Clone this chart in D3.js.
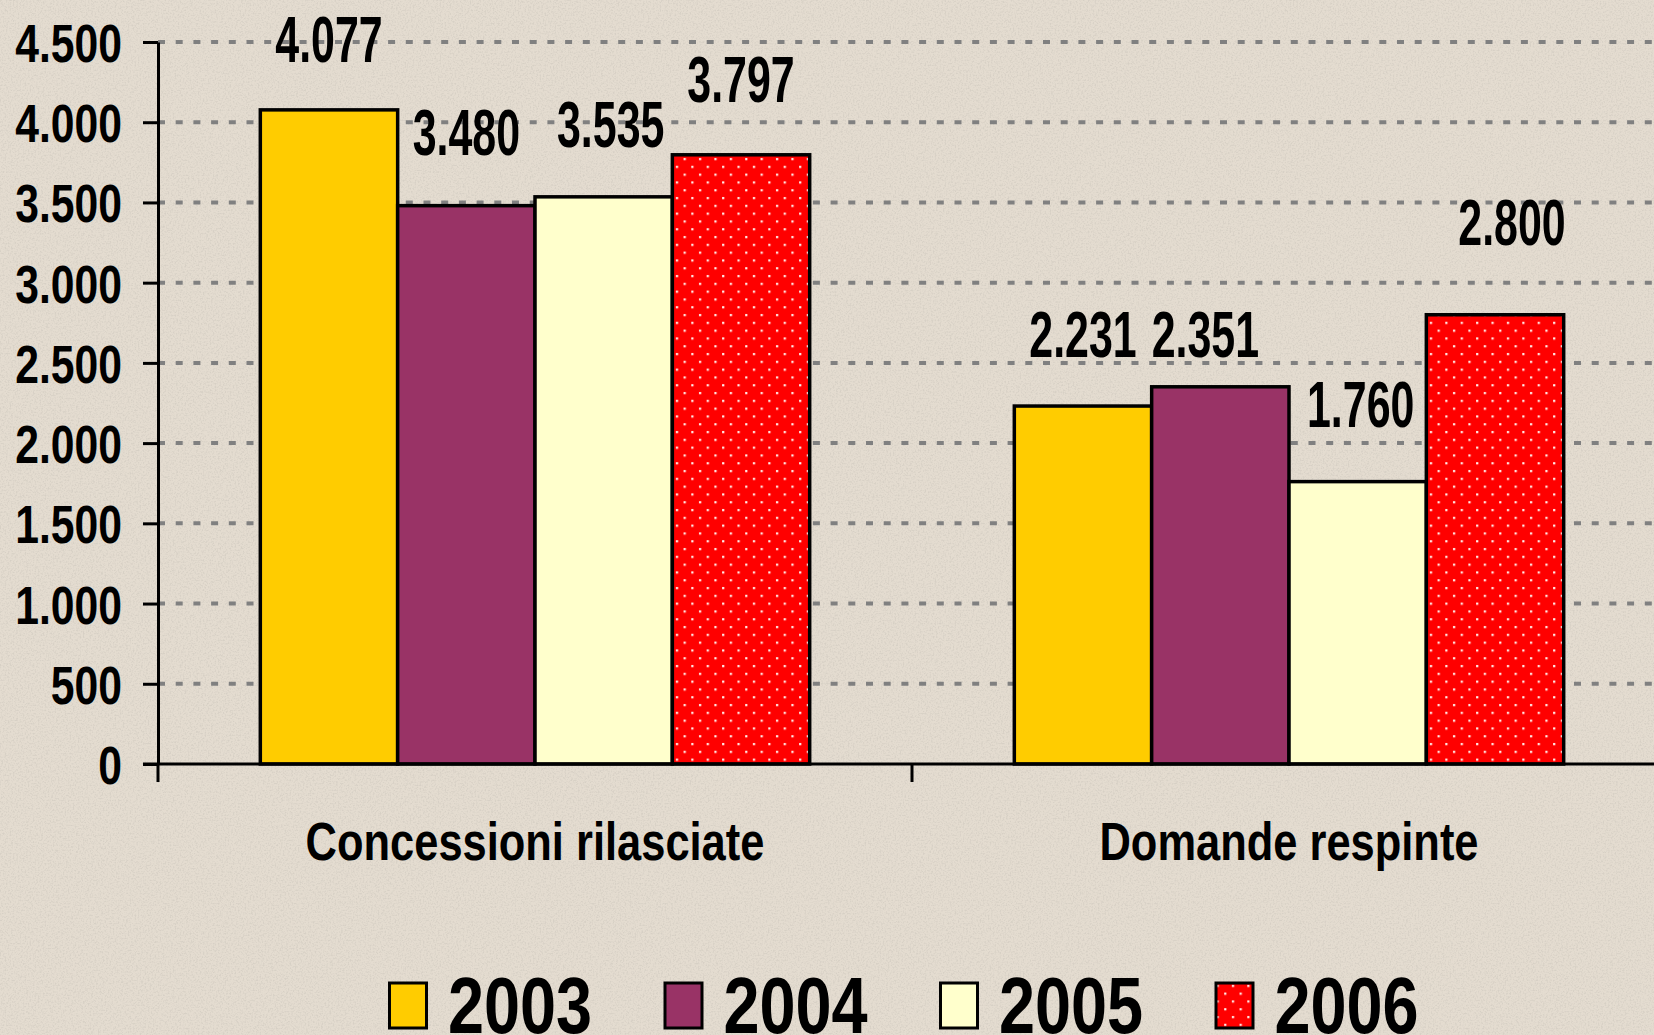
<!DOCTYPE html>
<html>
<head>
<meta charset="utf-8">
<script src="https://cdn.jsdelivr.net/npm/d3@7"></script>
<style>
  html, body { margin: 0; padding: 0; background: #e4dcd0; }
  svg { display: block; }
  text { font-family: "Liberation Sans", Arial, sans-serif; font-weight: bold; fill: #000; }
</style>
</head>
<body>
<div id="chart"></div>
<script>
// chart data
const categories = ["Concessioni rilasciate", "Domande respinte"];
const years = ["2003", "2004", "2005", "2006"];
const values2003 = [4077, 2231];
const values2004 = [3480, 2351];
const values2005 = [3535, 1760];
const values2006 = [3797, 2800];
const yTicks = [0, 500, 1000, 1500, 2000, 2500, 3000, 3500, 4000, 4500];

const seriesValues = [values2003, values2004, values2005, values2006];
const colors = ["#ffcc00", "#993366", "#ffffcc", "url(#dots)"];

// hand placed data labels in the original, small nudges [dx, dy] per category/year
const labelNudge = [
  [[0, 2], [0, -1], [7, 0], [0, -3]],
  [[0, 1], [-15, 20], [3, -5], [17, -20]]
];

const W = 1654, H = 1035;
const plot = { left: 158, right: 1666, top: 42, bottom: 764 };

const it = d3.formatLocale({ decimal: ",", thousands: ".", grouping: [3], currency: ["€", ""] });
const fmt = it.format(",d");

const svg = d3.select("#chart").append("svg")
  .attr("width", W).attr("height", H);

const defs = svg.append("defs");
const pat = defs.append("pattern")
  .attr("id", "dots").attr("patternUnits", "userSpaceOnUse")
  .attr("width", 15.4).attr("height", 15.6);
pat.append("rect").attr("width", 15.4).attr("height", 15.6).attr("fill", "#ff0000");
pat.append("rect").attr("x", 2).attr("y", 2).attr("width", 2.2).attr("height", 2.2).attr("fill", "#fff4f0");
pat.append("rect").attr("x", 9.7).attr("y", 9.8).attr("width", 2.2).attr("height", 2.2).attr("fill", "#fff4f0");

const noise = defs.append("filter").attr("id", "paper")
  .attr("x", 0).attr("y", 0).attr("width", "100%").attr("height", "100%");
noise.append("feTurbulence").attr("type", "fractalNoise")
  .attr("baseFrequency", 0.6).attr("numOctaves", 2).attr("seed", 4);
noise.append("feColorMatrix").attr("type", "matrix")
  .attr("values", "0 0 0 0 0.6  0 0 0 0 0.56  0 0 0 0 0.5  0 0 0 -3 1.7");

// background
svg.append("rect").attr("width", W).attr("height", H).attr("fill", "#e4dcd0");
svg.append("rect").attr("width", W).attr("height", H).attr("filter", "url(#paper)").attr("opacity", 0.5);

const x0 = d3.scaleBand().domain(categories).range([plot.left, plot.right]);
const x1 = d3.scaleBand().domain(years).range([0, x0.bandwidth()])
  .paddingInner(0).paddingOuter(0.745);
const y = d3.scaleLinear().domain([0, 4500]).range([plot.bottom, plot.top]);

// grid
svg.append("g").selectAll("line").data(yTicks.filter(d => d > 0)).join("line")
  .attr("x1", plot.left).attr("x2", W)
  .attr("y1", d => y(d)).attr("y2", d => y(d))
  .attr("stroke", "#808080").attr("stroke-width", 4)
  .attr("stroke-dasharray", "7,10.7");

// bars
const groups = svg.append("g").selectAll("g").data(categories).join("g")
  .attr("transform", c => `translate(${x0(c)},0)`);

groups.selectAll("rect")
  .data((c, ci) => years.map((yr, yi) => ({ yr, yi, ci, v: seriesValues[yi][ci] })))
  .join("rect")
  .attr("x", d => x1(d.yr))
  .attr("width", x1.bandwidth())
  .attr("y", d => y(d.v))
  .attr("height", d => y(0) - y(d.v))
  .attr("fill", d => colors[d.yi])
  .attr("stroke", "#000").attr("stroke-width", 3.5);

// data labels (condensed face -> squeeze horizontally)
groups.selectAll("g.lbl")
  .data((c, ci) => years.map((yr, yi) => ({ yr, yi, ci, v: seriesValues[yi][ci] })))
  .join("g").attr("class", "lbl")
  .attr("transform", d => {
    const n = labelNudge[d.ci][d.yi];
    return `translate(${x1(d.yr) + x1.bandwidth() / 2 + n[0]},${y(d.v) - 50 + n[1]})`;
  })
  .append("text")
  .attr("transform", "scale(0.66,1)")
  .attr("text-anchor", "middle")
  .style("font-size", "65px")
  .text(d => fmt(d.v));

// y axis
const yAxis = svg.append("g")
  .attr("transform", `translate(${plot.left},0)`)
  .call(d3.axisLeft(y).tickValues(yTicks).tickFormat(fmt).tickSize(15).tickPadding(6).tickSizeOuter(0));
yAxis.select(".domain").attr("stroke", "#000").attr("stroke-width", 3);
yAxis.selectAll(".tick line").attr("stroke", "#000").attr("stroke-width", 3);
yAxis.selectAll(".tick text")
  .attr("x", 0)
  .attr("dy", "0.36em")
  .attr("transform", "translate(-36,0) scale(0.79,1)")
  .style("font-size", "54px")
  .style("font-family", "\"Liberation Sans\", Arial, sans-serif");

// x axis
const xAxisG = svg.append("g");
xAxisG.append("line")
  .attr("x1", plot.left - 15).attr("x2", W)
  .attr("y1", y(0)).attr("y2", y(0))
  .attr("stroke", "#000").attr("stroke-width", 3);
xAxisG.selectAll("line.sep").data([categories[0], categories[1], null]).join("line")
  .attr("class", "sep")
  .attr("x1", c => c === null ? plot.right : x0(c))
  .attr("x2", c => c === null ? plot.right : x0(c))
  .attr("y1", y(0)).attr("y2", y(0) + 18)
  .attr("stroke", "#000").attr("stroke-width", 3);
xAxisG.selectAll("g.cat").data(categories).join("g")
  .attr("class", "cat")
  .attr("transform", c => `translate(${x0(c) + x0.bandwidth() / 2},860) scale(0.82,1)`)
  .append("text")
  .attr("text-anchor", "middle")
  .style("font-size", "53px")
  .text(c => c);

// legend
const legend = svg.append("g").attr("transform", "translate(388,0)");
const li = legend.selectAll("g").data(years).join("g")
  .attr("transform", (d, i) => `translate(${i * 275.5},0)`);
li.append("rect")
  .attr("x", 1.5).attr("y", 983).attr("width", 37).attr("height", 45)
  .attr("fill", (d, i) => colors[i])
  .attr("stroke", "#000").attr("stroke-width", 3);
li.append("g")
  .attr("transform", "translate(60,1033) scale(0.81,1)")
  .append("text")
  .style("font-size", "80px")
  .text(d => d);
</script>
</body>
</html>
